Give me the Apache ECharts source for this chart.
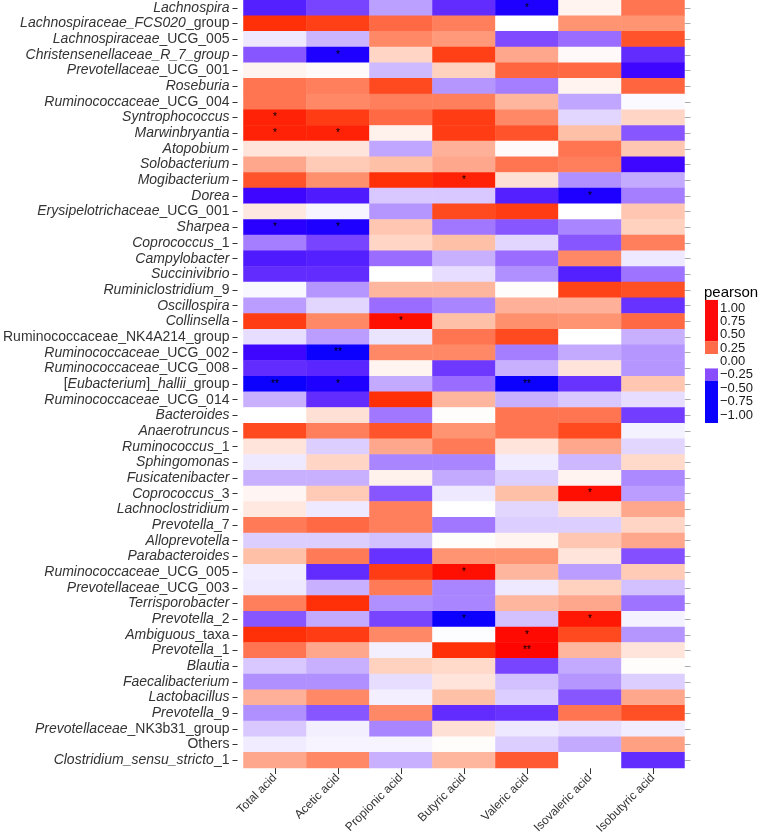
<!DOCTYPE html>
<html>
<head>
<meta charset="utf-8">
<script src="https://cdn.jsdelivr.net/npm/echarts@6/dist/echarts.min.js"></script>
<style>
  html, body { margin: 0; padding: 0; background: #fff; }
  #chart { width: 762px; height: 837px; }
</style>
</head>
<body>
<div id="chart"></div>
<script>
const acids = ['Total acid', 'Acetic acid', 'Propionic acid', 'Butyric acid', 'Valeric acid', 'Isovaleric acid', 'Isobutyric acid'];

const taxa = [
  'Lachnospira', 'Lachnospiraceae_FCS020_group', 'Lachnospiraceae_UCG_005', 'Christensenellaceae_R_7_group',
  'Prevotellaceae_UCG_001', 'Roseburia', 'Ruminococcaceae_UCG_004', 'Syntrophococcus', 'Marwinbryantia',
  'Atopobium', 'Solobacterium', 'Mogibacterium', 'Dorea', 'Erysipelotrichaceae_UCG_001', 'Sharpea',
  'Coprococcus_1', 'Campylobacter', 'Succinivibrio', 'Ruminiclostridium_9', 'Oscillospira', 'Collinsella',
  'Ruminococcaceae_NK4A214_group', 'Ruminococcaceae_UCG_002', 'Ruminococcaceae_UCG_008',
  '[Eubacterium]_hallii_group', 'Ruminococcaceae_UCG_014', 'Bacteroides', 'Anaerotruncus', 'Ruminococcus_1',
  'Sphingomonas', 'Fusicatenibacter', 'Coprococcus_3', 'Lachnoclostridium', 'Prevotella_7', 'Alloprevotella',
  'Parabacteroides', 'Ruminococcaceae_UCG_005', 'Prevotellaceae_UCG_003', 'Terrisporobacter', 'Prevotella_2',
  'Ambiguous_taxa', 'Prevotella_1', 'Blautia', 'Faecalibacterium', 'Lactobacillus', 'Prevotella_9',
  'Prevotellaceae_NK3b31_group', 'Others', 'Clostridium_sensu_stricto_1'
];

// Italic part (rendered italic) of each label; remainder upright
const italicLabels = {
  'Lachnospira': [['i', 'Lachnospira']],
  'Lachnospiraceae_FCS020_group': [['i', 'Lachnospiraceae_FCS020'], ['n', '_group']],
  'Lachnospiraceae_UCG_005': [['i', 'Lachnospiraceae'], ['n', '_UCG_005']],
  'Christensenellaceae_R_7_group': [['i', 'Christensenellaceae_R_7_group']],
  'Prevotellaceae_UCG_001': [['i', 'Prevotellaceae'], ['n', '_UCG_001']],
  'Ruminococcaceae_UCG_004': [['i', 'Ruminococcaceae'], ['n', '_UCG_004']],
  'Erysipelotrichaceae_UCG_001': [['i', 'Erysipelotrichaceae'], ['n', '_UCG_001']],
  'Coprococcus_1': [['i', 'Coprococcus'], ['n', '_1']],
  'Ruminiclostridium_9': [['i', 'Ruminiclostridium'], ['n', '_9']],
  'Ruminococcaceae_NK4A214_group': [['n', 'Ruminococcaceae_NK4A214_group']],
  'Ruminococcaceae_UCG_002': [['i', 'Ruminococcaceae'], ['n', '_UCG_002']],
  'Ruminococcaceae_UCG_008': [['i', 'Ruminococcaceae'], ['n', '_UCG_008']],
  '[Eubacterium]_hallii_group': [['n', '['], ['i', 'Eubacterium'], ['n', ']_'], ['i', 'hallii'], ['n', '_group']],
  'Ruminococcaceae_UCG_014': [['i', 'Ruminococcaceae'], ['n', '_UCG_014']],
  'Ruminococcus_1': [['i', 'Ruminococcus'], ['n', '_1']],
  'Coprococcus_3': [['i', 'Coprococcus'], ['n', '_3']],
  'Prevotella_7': [['i', 'Prevotella'], ['n', '_7']],
  'Ruminococcaceae_UCG_005': [['i', 'Ruminococcaceae'], ['n', '_UCG_005']],
  'Prevotellaceae_UCG_003': [['i', 'Prevotellaceae'], ['n', '_UCG_003']],
  'Prevotella_2': [['i', 'Prevotella'], ['n', '_2']],
  'Ambiguous_taxa': [['i', 'Ambiguous'], ['n', '_taxa']],
  'Prevotella_1': [['i', 'Prevotella'], ['n', '_1']],
  'Prevotella_9': [['i', 'Prevotella'], ['n', '_9']],
  'Prevotellaceae_NK3b31_group': [['i', 'Prevotellaceae'], ['n', '_NK3b31_group']],
  'Others': [['n', 'Others']],
  'Clostridium_sensu_stricto_1': [['i', 'Clostridium_sensu_stricto'], ['n', '_1']]
};

// Pearson correlation values, one array per acid (rows in taxa order)
const totalAcid = [-0.8, 0.9, -0.08, -0.58, 0.05, 0.65, 0.65, 0.93, 0.93, 0.12, 0.42, 0.78, -0.88, 0.1, -0.93, -0.45, -0.82, -0.75, -0.03, -0.36, 0.86, -0.12, -0.88, -0.75, -0.98, -0.3, 0.0, 0.82, 0.12, -0.08, -0.3, 0.04, 0.1, 0.62, -0.18, 0.3, -0.07, -0.08, 0.6, -0.58, 0.9, 0.65, -0.2, -0.4, 0.38, -0.4, -0.2, -0.07, 0.42];
const aceticAcid = [-0.65, 0.85, -0.28, -0.95, 0.02, 0.6, 0.55, 0.86, 0.93, 0.12, 0.25, 0.52, -0.82, -0.04, -0.95, -0.65, -0.8, -0.75, -0.38, -0.15, 0.55, -0.36, -0.98, -0.78, -0.95, -0.75, 0.14, 0.6, -0.18, 0.2, -0.3, 0.25, -0.08, 0.7, -0.18, 0.62, -0.75, -0.3, 0.9, -0.32, 0.86, 0.42, -0.3, -0.4, 0.55, -0.58, -0.06, -0.04, 0.55];
const propionicAcid = [-0.35, 0.7, 0.55, 0.2, -0.26, 0.82, 0.6, 0.7, 0.06, -0.33, 0.3, 0.9, -0.2, -0.38, 0.27, 0.2, -0.5, 0.0, 0.35, -0.5, 0.97, -0.1, 0.55, 0.05, -0.32, 0.9, -0.47, 0.78, 0.42, -0.43, 0.06, -0.58, 0.6, 0.6, -0.23, -0.73, 0.86, 0.62, -0.4, -0.65, 0.55, -0.06, 0.22, -0.12, -0.06, 0.55, -0.43, -0.04, -0.3];
const butyricAcid = [-0.75, 0.6, 0.48, 0.85, 0.22, -0.38, 0.6, 0.86, 0.86, 0.38, 0.42, 0.93, -0.2, 0.82, -0.47, 0.3, -0.3, -0.12, 0.35, -0.43, 0.3, 0.65, 0.55, -0.7, -0.5, 0.35, 0.01, 0.5, 0.62, -0.43, -0.32, -0.08, 0.0, -0.47, 0.01, 0.5, 0.97, -0.43, -0.43, -0.98, -0.01, 0.9, 0.18, 0.12, 0.3, -0.75, 0.14, 0.01, 0.35];
const valericAcid = [-0.95, 0.0, -0.62, 0.42, 0.72, -0.45, 0.35, 0.55, 0.78, 0.02, 0.65, 0.14, -0.8, 0.86, -0.58, -0.15, -0.5, -0.4, 0.01, 0.38, 0.52, 0.82, -0.45, -0.3, -0.98, -0.3, 0.65, 0.65, 0.12, -0.07, -0.18, 0.3, -0.15, -0.18, 0.05, 0.5, 0.35, -0.08, 0.35, -0.23, 0.98, 0.99, -0.65, -0.23, -0.18, -0.72, -0.08, -0.18, 0.76];
const isovalericAcid = [0.05, 0.5, -0.5, 0.02, 0.7, 0.05, -0.33, -0.15, 0.3, 0.65, 0.6, -0.4, -0.95, 0.0, -0.43, -0.58, 0.55, -0.8, 0.84, 0.38, 0.5, 0.0, -0.32, 0.12, -0.72, -0.2, 0.65, 0.82, 0.42, -0.27, 0.05, 0.97, 0.14, -0.18, 0.27, 0.12, -0.36, 0.22, 0.42, 0.95, 0.82, 0.35, -0.32, -0.38, -0.58, 0.65, -0.12, -0.32, 0.0];
const isobutyricAcid = [0.65, 0.5, 0.78, -0.75, -0.88, 0.72, -0.02, 0.2, -0.58, 0.27, -0.88, -0.32, -0.45, 0.27, 0.22, 0.6, -0.08, -0.48, 0.8, -0.73, 0.7, -0.3, -0.38, -0.38, 0.27, -0.12, -0.68, -0.05, -0.15, 0.18, -0.42, -0.36, 0.42, 0.2, 0.42, -0.6, 0.25, -0.23, -0.48, -0.05, -0.38, 0.12, 0.01, -0.18, 0.42, 0.8, -0.07, 0.45, -0.75];

const significance = [
  ['Lachnospira', 'Valeric acid', '*'],
  ['Christensenellaceae_R_7_group', 'Acetic acid', '*'],
  ['Syntrophococcus', 'Total acid', '*'],
  ['Marwinbryantia', 'Total acid', '*'],
  ['Marwinbryantia', 'Acetic acid', '*'],
  ['Mogibacterium', 'Butyric acid', '*'],
  ['Dorea', 'Isovaleric acid', '*'],
  ['Sharpea', 'Total acid', '*'],
  ['Sharpea', 'Acetic acid', '*'],
  ['Collinsella', 'Propionic acid', '*'],
  ['Ruminococcaceae_UCG_002', 'Acetic acid', '**'],
  ['[Eubacterium]_hallii_group', 'Total acid', '**'],
  ['[Eubacterium]_hallii_group', 'Acetic acid', '*'],
  ['[Eubacterium]_hallii_group', 'Valeric acid', '**'],
  ['Coprococcus_3', 'Isovaleric acid', '*'],
  ['Ruminococcaceae_UCG_005', 'Butyric acid', '*'],
  ['Prevotella_2', 'Butyric acid', '*'],
  ['Prevotella_2', 'Isovaleric acid', '*'],
  ['Ambiguous_taxa', 'Valeric acid', '*'],
  ['Prevotella_1', 'Valeric acid', '**']
];

const legendTicks = [-1, -0.75, -0.5, -0.25, 0, 0.25, 0.5, 0.75, 1];
const legendBands = [
  { from: 0.38, to: 1.15, color: '#ff0a0a' },
  { from: 0.14, to: 0.38, color: '#ff6a48' },
  { from: -0.36, to: -0.13, color: '#8a4cff' },
  { from: -1.15, to: -0.36, color: '#0a00ff' }
];

const columns = [totalAcid, aceticAcid, propionicAcid, butyricAcid, valericAcid, isovalericAcid, isobutyricAcid];
const sigMap = {};
significance.forEach(([t, a, m]) => { sigMap[taxa.indexOf(t) + '|' + acids.indexOf(a)] = m; });

const heatData = [];
columns.forEach((col, xi) => {
  col.forEach((v, yi) => heatData.push([xi, yi, v]));
});

const FONT = '"Liberation Sans", Arial, Helvetica, sans-serif';

const chart = echarts.init(document.getElementById('chart'), null, { renderer: 'canvas' });

chart.setOption({
  animation: false,
  backgroundColor: '#ffffff',
  textStyle: { fontFamily: FONT },
  title: {
    text: 'pearson', left: 704, top: 285, padding: 0,
    textStyle: { fontSize: 15, fontWeight: 'normal', color: '#000', fontFamily: FONT }
  },
  grid: [
    { left: 241, right: 77.5, top: 0, bottom: 69 },
    { left: 705, width: 13, top: 294.6, height: 133.75 }
  ],
  xAxis: [
    {
      type: 'category', data: acids, gridIndex: 0, position: 'bottom',
      axisLine: { show: false },
      axisTick: { show: true, alignWithLabel: true, length: 6, lineStyle: { color: '#333' } },
      axisLabel: { rotate: 45, fontSize: 12, color: '#333', margin: 8, interval: 0, fontFamily: FONT },
      splitLine: { show: false }
    },
    {
      type: 'category', data: ['bar'], gridIndex: 1, show: false
    }
  ],
  yAxis: [
    {
      type: 'category', data: taxa, inverse: true, gridIndex: 0, offset: 6,
      axisLine: { show: false },
      axisTick: { show: true, alignWithLabel: true, length: 5, lineStyle: { color: '#333' } },
      axisLabel: {
        interval: 0, fontSize: 14, color: '#333', margin: 8, fontFamily: FONT,
        formatter: (name) => (italicLabels[name] || [['i', name]]).map(([s, t]) => '{' + s + '|' + t + '}').join(''),
        rich: {
          i: { fontStyle: 'italic', fontSize: 14, color: '#333', fontFamily: FONT },
          n: { fontStyle: 'normal', fontSize: 14, color: '#333', fontFamily: FONT }
        }
      },
      splitLine: { show: false }
    },
    {
      type: 'category', data: taxa, inverse: true, gridIndex: 0, position: 'right',
      axisLine: { show: false },
      axisTick: { show: true, alignWithLabel: true, length: 6, lineStyle: { color: '#aaa' } },
      axisLabel: { show: false },
      splitLine: { show: false }
    },
    {
      type: 'value', gridIndex: 1, min: -1.25, max: 1.25, interval: 0.25, position: 'right',
      axisLine: { show: false }, axisTick: { show: false }, splitLine: { show: false },
      axisLabel: {
        margin: 2, fontSize: 13, color: '#1a1a1a', fontFamily: FONT,
        formatter: (v) => {
          const hit = legendTicks.find(t => Math.abs(t - v) < 1e-6);
          if (hit === undefined) return '';
          return hit.toFixed(2).replace('-', '\u2212');
        }
      }
    }
  ],
  visualMap: {
    type: 'continuous', show: false, min: -1, max: 1, dimension: 2, seriesIndex: 0,
    inRange: {
      color: ['#0000ff', '#3a00ff', '#5520ff', '#6e38ff', '#8450ff', '#9a6cff', '#b090ff', '#c8b0ff',
        '#d8c8ff', '#ebe4ff', '#ffffff', '#ffe8e0', '#ffd5c5', '#ffc0a8', '#ffac94', '#ff9472',
        '#ff7e5c', '#ff6a45', '#ff4f25', '#ff3008', '#ff0000']
    }
  },
  series: [
    {
      type: 'heatmap', xAxisIndex: 0, yAxisIndex: 0, data: heatData,
      emphasis: { disabled: true },
      label: {
        show: true, fontSize: 10, color: '#000', fontFamily: FONT,
        formatter: (p) => sigMap[p.data[1] + '|' + p.data[0]] || ''
      }
    },
    {
      type: 'custom', xAxisIndex: 1, yAxisIndex: 2,
      data: legendBands.map(b => ({ value: [0, b.to, b.from], itemStyle: { color: b.color } })),
      renderItem: (params, api) => {
        const top = api.coord([api.value(0), api.value(1)]);
        const bot = api.coord([api.value(0), api.value(2)]);
        const w = api.size([1, 0])[0];
        return {
          type: 'rect',
          shape: { x: top[0] - w / 2, y: top[1], width: w, height: bot[1] - top[1] },
          style: { fill: api.visual('color') }
        };
      },
      silent: true
    }
  ]
});
</script>
</body>
</html>
